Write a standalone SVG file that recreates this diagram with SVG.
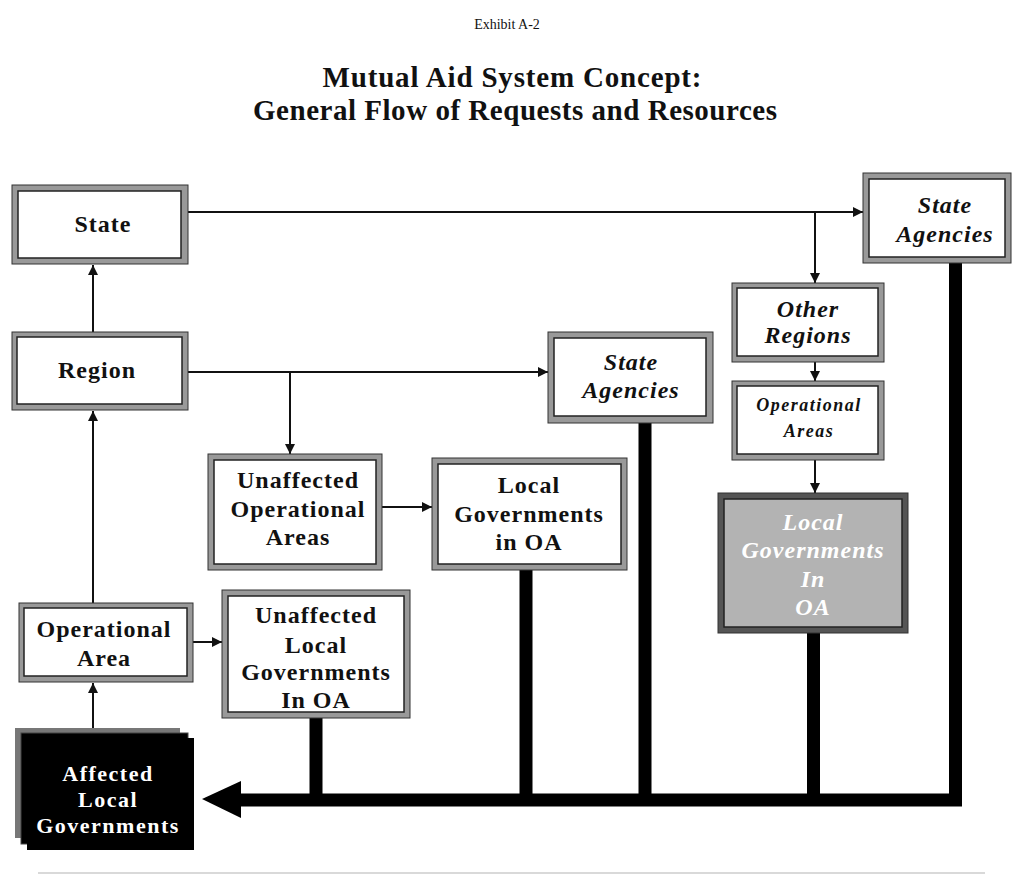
<svg xmlns="http://www.w3.org/2000/svg" width="1014" height="874" viewBox="0 0 1014 874">
<style>
  .t { font-family: "Liberation Serif", "Times New Roman", serif; font-weight: bold; fill: #111; text-anchor: middle; }
  .b { font-size: 24px; letter-spacing: 1px; }
  .a { font-size: 22px; letter-spacing: 1.5px; }
  .i { font-style: italic; }
  .s { font-size: 18px; letter-spacing: 1.5px; }
  .w { fill: #fff; }
  .outer { fill: #999; stroke: #333; stroke-width: 1; }
  .inner { fill: #fff; stroke: #222; stroke-width: 1.5; }
  .conn { fill: none; stroke: #111; stroke-width: 2; marker-end: url(#ah); }
  .thick { fill: none; stroke: #000; stroke-width: 13; stroke-linejoin: miter; }
</style>
<defs>
  <marker id="ah" viewBox="0 0 10 10" refX="10" refY="5" markerWidth="5" markerHeight="5" orient="auto" markerUnits="strokeWidth">
    <path d="M0,0 L10,5 L0,10 z" fill="#111"/>
  </marker>
</defs>
<rect width="1014" height="874" fill="#fff"/>

<g id="title">
  <text class="t" x="507" y="29" font-size="14" style="font-weight:normal">Exhibit A-2</text>
  <text class="t" x="512" y="87" font-size="29" textLength="379" lengthAdjust="spacing">Mutual Aid System Concept:</text>
  <text class="t" x="515" y="120" font-size="29" textLength="524" lengthAdjust="spacing">General Flow of Requests and Resources</text>
</g>

<g id="connectors">
  <line class="conn" x1="93" y1="332" x2="93" y2="265"/>
  <line class="conn" x1="188" y1="212" x2="863" y2="212"/>
  <line class="conn" x1="815" y1="212" x2="815" y2="283"/>
  <line class="conn" x1="815" y1="362" x2="815" y2="381"/>
  <line class="conn" x1="815" y1="460" x2="815" y2="493"/>
  <line class="conn" x1="188" y1="372" x2="548" y2="372"/>
  <line class="conn" x1="290" y1="372" x2="290" y2="454"/>
  <line class="conn" x1="382" y1="507" x2="432" y2="507"/>
  <line class="conn" x1="93" y1="603" x2="93" y2="411"/>
  <line class="conn" x1="93" y1="733" x2="93" y2="683"/>
  <line class="conn" x1="185" y1="642" x2="222" y2="642"/>
  <line class="thick" x1="316" y1="718" x2="316" y2="800"/>
  <line class="thick" x1="526" y1="570" x2="526" y2="800"/>
  <line class="thick" x1="645" y1="423" x2="645" y2="800"/>
  <line class="thick" x1="813.5" y1="633" x2="813.5" y2="800"/>
  <polyline class="thick" points="955.5,263 955.5,800 238,800"/>
  <polygon points="202,799 241,781 241,818" fill="#000"/>
</g>

<g id="state">
  <rect class="outer" x="12" y="185" width="176" height="79"/>
  <rect class="inner" x="18" y="191" width="163" height="67"/>
  <text class="t b" x="103" y="232">State</text>
</g>

<g id="region">
  <rect class="outer" x="12" y="332" width="176" height="78"/>
  <rect class="inner" x="17" y="337" width="165" height="67"/>
  <text class="t b" x="97" y="378">Region</text>
</g>

<g id="state-agencies-top">
  <rect class="outer" x="863" y="173" width="148" height="90"/>
  <rect class="inner" x="869" y="179" width="136" height="78"/>
  <text class="t b i" x="945" y="213">State</text>
  <text class="t b i" x="945" y="242">Agencies</text>
</g>

<g id="other-regions">
  <rect class="outer" x="732" y="283" width="152" height="79"/>
  <rect class="inner" x="737" y="288" width="141" height="68"/>
  <text class="t b i" x="808" y="317">Other</text>
  <text class="t b i" x="808" y="343">Regions</text>
</g>

<g id="operational-areas">
  <rect class="outer" x="732" y="381" width="152" height="79"/>
  <rect class="inner" x="737" y="386" width="141" height="68"/>
  <text class="t s i" x="809" y="411">Operational</text>
  <text class="t s i" x="809" y="437">Areas</text>
</g>

<g id="local-gov-gray">
  <rect x="718" y="493" width="190" height="140" fill="#555" stroke="#333" stroke-width="1"/>
  <rect x="724" y="499" width="178" height="128" fill="#b3b3b3" stroke="#222" stroke-width="1.5"/>
  <text class="t b i w" x="813" y="530">Local</text>
  <text class="t b i w" x="813" y="558">Governments</text>
  <text class="t b i w" x="813" y="587">In</text>
  <text class="t b i w" x="813" y="615">OA</text>
</g>

<g id="state-agencies-mid">
  <rect class="outer" x="548" y="332" width="165" height="91"/>
  <rect class="inner" x="554" y="338" width="152" height="78"/>
  <text class="t b i" x="631" y="370">State</text>
  <text class="t b i" x="631" y="398">Agencies</text>
</g>

<g id="unaffected-oa">
  <rect class="outer" x="208" y="454" width="174" height="116"/>
  <rect class="inner" x="214" y="460" width="162" height="104"/>
  <text class="t b" x="298" y="488">Unaffected</text>
  <text class="t b" x="298" y="517">Operational</text>
  <text class="t b" x="298" y="545">Areas</text>
</g>

<g id="local-gov-oa">
  <rect class="outer" x="432" y="458" width="195" height="112"/>
  <rect class="inner" x="438" y="464" width="183" height="100"/>
  <text class="t b" x="529" y="493">Local</text>
  <text class="t b" x="529" y="522">Governments</text>
  <text class="t b" x="529" y="550">in OA</text>
</g>

<g id="operational-area">
  <rect class="outer" x="19" y="603" width="174" height="79"/>
  <rect class="inner" x="24" y="608" width="163" height="68"/>
  <text class="t b" x="104" y="637">Operational</text>
  <text class="t b" x="104" y="666">Area</text>
</g>

<g id="unaffected-local-gov">
  <rect class="outer" x="222" y="590" width="188" height="128"/>
  <rect class="inner" x="228" y="596" width="176" height="116"/>
  <text class="t b" x="316" y="623">Unaffected</text>
  <text class="t b" x="316" y="653">Local</text>
  <text class="t b" x="316" y="680">Governments</text>
  <text class="t b" x="316" y="708">In OA</text>
</g>

<g id="affected-local-gov">
  <rect x="15" y="728" width="165" height="110" fill="#777"/>
  <rect x="21" y="733" width="167" height="111" fill="#000" stroke="#444" stroke-width="1"/>
  <rect x="27" y="738" width="167" height="112" fill="#000"/>
  <text class="t a w" x="108" y="781">Affected</text>
  <text class="t a w" x="108" y="807">Local</text>
  <text class="t a w" x="108" y="833">Governments</text>
</g>

<line x1="38" y1="873" x2="985" y2="873" stroke="#ccc" stroke-width="1.5"/>
</svg>
